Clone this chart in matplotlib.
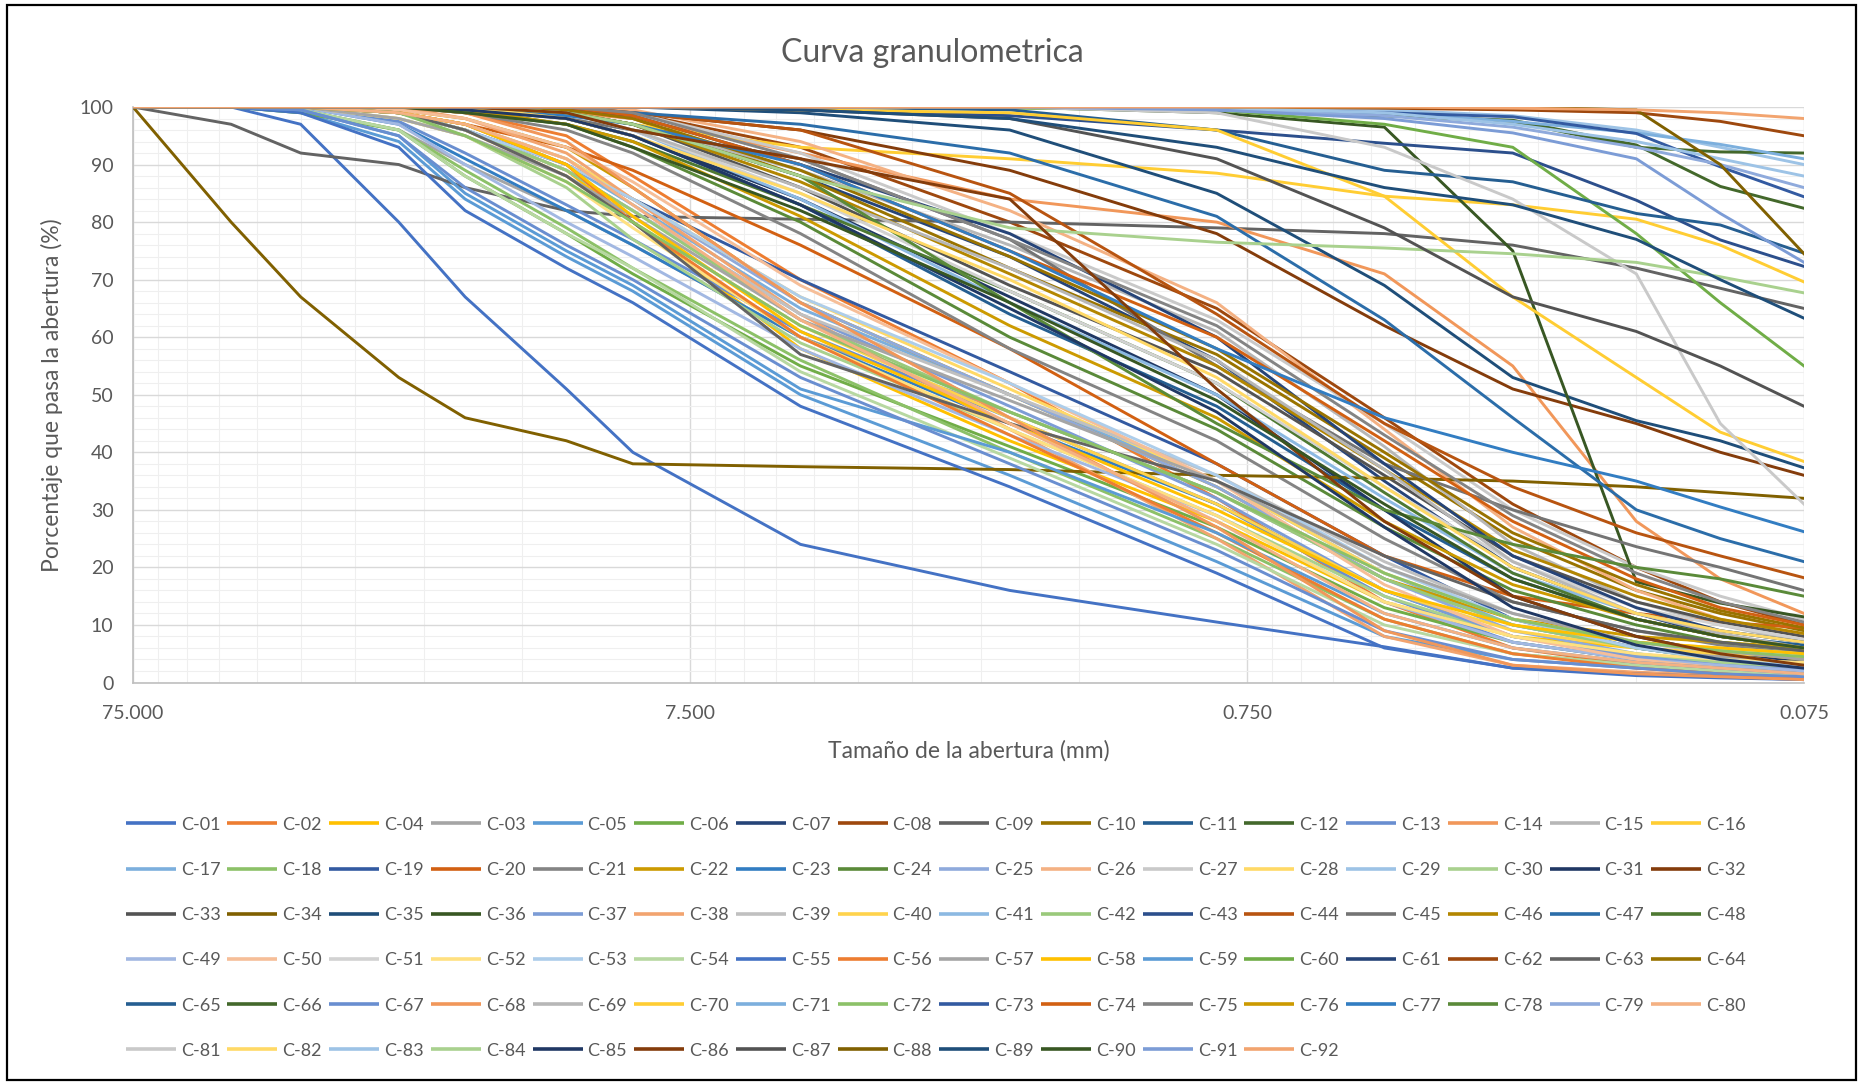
import colorsys
import matplotlib
matplotlib.use("Agg")
import matplotlib.pyplot as plt
from matplotlib.colors import to_rgb
from matplotlib.lines import Line2D
from matplotlib.patches import Rectangle
from matplotlib.ticker import FixedLocator, FuncFormatter, MultipleLocator, NullFormatter

# Sieve openings (mm)
sieves_mm = [75, 50, 37.5, 25, 19, 12.5, 9.5, 4.75, 2.0, 0.85, 0.425, 0.25, 0.15, 0.106, 0.075]

# Percent passing for each sample, in the order of sieves_mm
C01 = [100, 100, 97, 80, 67, 51, 40, 24, 16, 10.5, 6.2, 2.5, 1.2, 0.8, 0.5]
C02 = [100, 100, 100, 100, 99, 95, 88, 70, 52, 32, 14, 6, 3, 2, 1]
C03 = [100, 100, 99.5, 96, 90, 82, 76, 60, 47, 33, 18, 10, 6, 4.5, 3.5]
C04 = [100, 100, 100, 99, 96, 89, 80, 58, 42, 28, 14, 8, 6, 5, 4]
C05 = [100, 100, 99, 94, 84, 74, 68, 50, 36, 21, 8, 4, 2.5, 1.8, 1.2]
C06 = [100, 100, 99, 96, 88, 78, 71, 55, 41, 27, 13, 7, 4, 3, 2]
C07 = [100, 100, 100, 100, 100, 99, 97, 88, 74, 56, 35, 20, 12, 8, 6]
C08 = [100, 100, 100, 100, 100, 100, 99, 93, 80, 65, 46, 31, 20, 14, 10]
C09 = [100, 97, 92, 90, 86, 82, 81, 80.5, 80, 79, 78, 76, 72, 68.5, 65]
C10 = [100, 100, 100, 100, 100, 99.5, 98, 88, 72, 57, 39, 25, 16, 12, 9]
C11 = [100, 100, 100, 100, 100, 98, 95, 83, 64, 48, 30, 18, 11, 8, 6.5]
C12 = [100, 100, 100, 100, 100, 100, 100, 100, 100, 99.5, 98.5, 97.7, 93.4, 86.2, 82.4]
C13 = [100, 100, 100, 97.5, 92, 83, 77, 61, 46, 31, 15, 7, 4, 2.8, 2]
C14 = [100, 100, 100, 100, 100, 99, 98, 92, 84, 80, 71, 55, 28, 18, 12]
C15 = [100, 100, 100, 100, 100, 99, 97, 89, 76, 61, 41, 24, 14, 10, 7]
C16 = [100, 100, 100, 100, 100, 99, 97, 93, 91, 88.5, 84.5, 83, 80.5, 76, 69.6]
C17 = [100, 100, 100, 99, 97, 90, 83, 65, 50, 35, 19, 10, 6, 4, 3]
C18 = [100, 100, 99.5, 96, 89, 79, 72, 56, 40, 25, 11, 5, 3, 2, 1.5]
C19 = [100, 100, 100, 99, 96, 90, 84, 70, 54, 38, 22, 11, 6, 4, 3]
C20 = [100, 100, 100, 99, 97, 93, 89, 76, 58, 38, 22, 15, 12, 10.5, 9.5]
C21 = [100, 100, 100, 100, 99, 96, 92, 78, 58, 42, 25, 14, 9, 6.5, 5]
C22 = [100, 100, 100, 99.5, 98, 93, 86, 66, 50, 34, 18, 11, 8, 7, 6]
C23 = [100, 100, 100, 97, 91, 82, 76, 60, 45, 31, 16, 8, 4.5, 3, 2]
C24 = [100, 100, 100, 100, 99, 97, 93, 80, 60, 44, 27, 16, 10, 7, 5.5]
C25 = [100, 100, 100, 99, 97, 91, 84, 66, 50, 34, 18, 9, 5, 3.5, 2.5]
C26 = [100, 100, 100, 100, 100, 100, 99.5, 94, 82, 66, 44, 27, 16, 11, 8]
C27 = [100, 100, 100, 100, 100, 100, 99, 92, 78, 63, 45, 30, 20, 15, 11]
C28 = [100, 100, 100, 99, 97, 91, 84, 67, 51, 35, 19, 11, 7, 6, 5]
C29 = [100, 100, 100, 100, 100, 100, 100, 100, 100, 100, 99.5, 98.5, 96, 93, 90]
C30 = [100, 100, 100, 98, 95, 86, 77, 59, 44, 29, 15, 8, 5, 3.5, 2.5]
C31 = [100, 100, 100, 100, 100, 98, 95, 84, 67, 50, 30, 15, 8, 5, 3.5]
C32 = [100, 100, 100, 100, 100, 100, 99, 96, 89, 78, 62, 51, 45, 40, 36]
C33 = [100, 100, 100, 100, 100, 99, 97, 86, 69, 54, 36, 22, 14, 10.5, 8]
C34 = [100, 80, 67, 53, 46, 42, 38, 37.5, 37, 36, 35.5, 35, 34, 33, 32]
C35 = [100, 100, 100, 100, 100, 100, 100, 99, 96, 85, 69, 53, 45.5, 42, 37.3]
C36 = [100, 100, 100, 100, 100, 100, 100, 100, 100, 99, 96.5, 75, 17.5, 13.8, 11.4]
C37 = [100, 100, 100, 99, 96, 89, 82, 64, 48, 32, 16, 8, 4.5, 3, 2.2]
C38 = [100, 100, 100, 100, 98, 92, 84, 64, 44, 25, 8, 3, 1.8, 1.2, 0.6]
C39 = [100, 100, 100, 99, 96, 89, 82, 64, 50, 36, 21, 12, 7, 5, 3]
C40 = [100, 100, 100, 99, 96, 88, 80, 62, 46, 31, 16, 9, 6, 5, 4.5]
C41 = [100, 100, 100, 100, 100, 98, 96, 84, 66, 50, 32, 19, 12, 9, 7]
C42 = [100, 100, 100, 99, 96, 89, 82, 63, 47, 33, 18, 10, 6, 4, 3]
C43 = [100, 100, 100, 100, 100, 100, 100, 99.5, 98.5, 96, 93.7, 92, 83.8, 76.9, 72.3]
C44 = [100, 100, 100, 100, 100, 100, 99, 96, 85, 64, 45, 34, 26, 22, 18.2]
C45 = [100, 100, 100, 100, 99.5, 98, 96, 91, 77, 55, 38, 30, 23.6, 20, 16]
C46 = [100, 100, 100, 100, 100, 99, 97, 87, 71, 55, 37, 23, 15, 11, 8.5]
C47 = [100, 100, 100, 100, 100, 99.5, 99, 97, 92, 81, 63, 46, 30, 25, 21]
C48 = [100, 100, 100, 100, 99.5, 97, 94, 83, 68, 52, 33, 19, 11, 8, 6]
C49 = [100, 100, 100, 97, 90, 80, 74, 58, 43, 29, 14, 7, 4, 3, 2]
C50 = [100, 100, 100, 99.5, 98, 93, 87, 69, 52, 35, 17, 8, 4, 2.5, 1.5]
C51 = [100, 100, 100, 100, 100, 99, 96, 85, 68, 52, 34, 21, 13, 10, 7.5]
C52 = [100, 100, 100, 98, 95, 87, 79, 60, 44, 29, 14, 8, 5, 4, 3.5]
C53 = [100, 100, 100, 99, 96, 90, 84, 67, 52, 36, 20, 11, 6, 4, 2.8]
C54 = [100, 100, 99.5, 96, 88, 78, 72, 54, 39, 24, 10, 5, 3, 2, 1.2]
C55 = [100, 100, 99, 93, 82, 72, 66, 48, 34, 19, 6, 2.5, 1.5, 1, 0.5]
C56 = [100, 100, 100, 99, 97, 90, 80, 60, 43, 26, 11, 5, 2.5, 1.5, 0.8]
C57 = [100, 100, 100, 98, 95, 88, 81, 63, 49, 35, 20, 12, 7, 5.5, 4]
C58 = [100, 100, 100, 99, 97, 90, 81, 61, 45, 30, 16, 10, 7, 6, 5]
C59 = [100, 100, 99.5, 95, 85, 75, 69, 51, 40, 26, 12, 6, 3.5, 2.5, 1.5]
C60 = [100, 100, 100, 100, 100, 100, 100, 100, 99.8, 99.5, 97, 93, 78, 66, 55]
C61 = [100, 100, 100, 100, 100, 99.5, 98.5, 90, 78, 60, 38, 22, 13, 9, 7]
C62 = [100, 100, 100, 100, 100, 100, 100, 100, 100, 100, 99.8, 99.5, 99, 97.5, 95]
C63 = [100, 100, 100, 99, 96, 88, 80, 57, 45, 35, 22, 14, 9, 7, 5.5]
C64 = [100, 100, 100, 100, 100, 99.5, 98, 89, 74, 58, 40, 26, 17, 12.5, 9.5]
C65 = [100, 100, 100, 100, 100, 100, 100, 100, 99.5, 96, 89, 87, 81.5, 79.5, 74.6]
C66 = [100, 100, 100, 100, 100, 100, 100, 100, 100, 99.5, 98.5, 97.5, 93, 92.2, 92]
C67 = [100, 100, 99.5, 95, 86, 76, 70, 53, 38, 23, 9, 4, 2.5, 1.5, 1]
C68 = [100, 100, 100, 100, 99, 94, 86, 66, 46, 27, 9, 3, 1.5, 1, 0.5]
C69 = [100, 100, 100, 100, 100, 99, 96, 86, 72, 56, 37, 21, 12, 8.5, 6]
C70 = [100, 100, 100, 100, 100, 100, 100, 99.5, 99, 96, 84.5, 67, 53, 43.5, 38.4]
C71 = [100, 100, 100, 100, 100, 100, 100, 100, 100, 99.5, 99, 97.5, 95.5, 93.5, 91]
C72 = [100, 100, 100, 99, 95, 87, 80, 62, 47, 33, 19, 11, 7, 5.5, 4.5]
C73 = [100, 100, 100, 100, 100, 100, 100, 100, 100, 99.5, 99, 98.3, 95.4, 89.6, 84.4]
C74 = [100, 100, 100, 100, 100, 100, 98.5, 90, 75, 60, 42, 28, 18, 13, 10]
C75 = [100, 100, 100, 100, 100, 100, 99, 91, 77, 62, 43, 29, 19, 14, 10.5]
C76 = [100, 100, 100, 100, 99.5, 97, 94, 81, 62, 46, 28, 17, 11, 8, 6]
C77 = [100, 100, 100, 100, 99.5, 98.5, 97, 90, 75, 58, 46, 40, 35, 30.5, 26.2]
C78 = [100, 100, 100, 100, 100, 99, 97, 88, 66, 45, 30, 24, 20, 18, 15]
C79 = [100, 100, 100, 100, 100, 100, 100, 100, 100, 99.5, 98.5, 96.5, 93, 90, 86]
C80 = [100, 100, 100, 99, 97, 91, 83, 63, 45, 28, 12, 6, 3.5, 2.5, 1.5]
C81 = [100, 100, 100, 100, 100, 100, 100, 100, 100, 99, 93, 84, 71, 45, 31]
C82 = [100, 100, 100, 100, 100, 98, 95, 85, 70, 53, 34, 20, 12, 9, 7]
C83 = [100, 100, 100, 100, 100, 100, 100, 100, 100, 99.8, 99, 97, 94, 91, 88]
C84 = [100, 100, 100, 100, 100, 99, 97, 88, 79, 76.5, 75.5, 74.5, 73, 70.5, 67.7]
C85 = [100, 100, 100, 100, 99.5, 98, 95, 83, 65, 47, 27, 13, 6.5, 4, 2.5]
C86 = [100, 100, 100, 100, 100, 99, 96, 91, 84, 51, 28, 15, 8, 5, 3]
C87 = [100, 100, 100, 100, 100, 100, 100, 99.5, 98, 91, 79, 67, 61, 55, 48]
C88 = [100, 100, 100, 100, 100, 100, 100, 100, 100, 100, 100, 100, 99.5, 90, 74.5]
C89 = [100, 100, 100, 100, 100, 100, 100, 99.5, 98, 93, 86, 83, 77, 70, 63.3]
C90 = [100, 100, 100, 100, 99, 97, 93, 82, 66, 49, 31, 18, 11, 8, 6]
C91 = [100, 100, 100, 100, 100, 100, 100, 100, 100, 99.5, 98, 95.5, 91, 81.5, 73]
C92 = [100, 100, 100, 100, 100, 100, 100, 100, 100, 100, 100, 99.8, 99.5, 99, 98]

sample_ids = [1, 2, 4, 3] + list(range(5, 93))
sample_labels = [f"C-{n:02d}" for n in sample_ids]
series_values = [globals()[f"C{n:02d}"] for n in sample_ids]

x_ticks = [75, 7.5, 0.75, 0.075]
x_tick_labels = ["75.000", "7.500", "0.750", "0.075"]

# Office theme accents and the nine shade variants Excel cycles through
ACCENTS = ["#4472C4", "#ED7D31", "#A5A5A5", "#FFC000", "#5B9BD5", "#70AD47"]
SHADES = [(1.0, 0.0), (0.6, 0.0), (0.8, 0.2), (0.8, 0.0), (0.6, 0.4),
          (0.5, 0.0), (0.7, 0.3), (0.7, 0.0), (0.5, 0.5)]


def series_color(n):
    k = (n - 1) % 54
    r, g, b = to_rgb(ACCENTS[k % 6])
    mod, off = SHADES[k // 6]
    h, l, s = colorsys.rgb_to_hls(r, g, b)
    l = min(1.0, l * mod + off)
    return colorsys.hls_to_rgb(h, l, s)


W, H = 1861, 1082
FONT = ["Lato", "DejaVu Sans"]
TXT = "#595959"
plt.rcParams["font.family"] = FONT

fig = plt.figure(figsize=(W / 100, H / 100), dpi=100)
fig.patch.set_facecolor("white")


def fx(px):
    return px / W


def fy(py):
    return 1 - py / H


left, right, top, bottom = 133, 1804, 107, 682.5
ax = fig.add_axes([fx(left), fy(bottom), fx(right - left), (bottom - top) / H])

for n, lab, vals in zip(sample_ids, sample_labels, series_values):
    ax.plot(sieves_mm, vals, color=series_color(n), lw=2.1, label=lab,
            solid_joinstyle="miter", zorder=3)

ax.set_xscale("log")
ax.set_xlim(75, 0.075)
ax.set_ylim(0, 100)

ax.xaxis.set_major_locator(FixedLocator(x_ticks))
ax.xaxis.set_major_formatter(FuncFormatter(lambda v, p: f"{v:.3f}"))
minor_x = [b * k for b in (0.075, 0.75, 7.5) for k in range(2, 10)]
ax.xaxis.set_minor_locator(FixedLocator(minor_x))
ax.xaxis.set_minor_formatter(NullFormatter())
ax.yaxis.set_major_locator(MultipleLocator(10))
ax.yaxis.set_minor_locator(MultipleLocator(2))

ax.grid(which="major", color="#D9D9D9", lw=1.0, zorder=0)
ax.grid(which="minor", color="#EFEFEF", lw=0.8, zorder=0)
ax.set_axisbelow(True)

for side in ("top", "right"):
    ax.spines[side].set_visible(False)
for side in ("left", "bottom"):
    ax.spines[side].set_color("#BFBFBF")
    ax.spines[side].set_linewidth(1.2)

ax.tick_params(axis="both", which="both", length=0, colors=TXT, labelsize=14)
ax.tick_params(axis="x", pad=16)
ax.tick_params(axis="y", pad=14)

ax.set_xlabel("Tamaño de la abertura (mm)", fontsize=16.5, color=TXT, labelpad=13)
ax.set_ylabel("Porcentaje que pasa la abertura (%)", fontsize=16.5, color=TXT, labelpad=12)

fig.text(fx(932), fy(53), "Curva granulometrica", ha="center", va="center",
         fontsize=23, color=TXT)

# Legend laid out row by row, 16 entries per row
col0, col_pitch = 125.7, 101.7
row0, row_pitch = 823.3, 45.2
for i, (n, lab) in enumerate(zip(sample_ids, sample_labels)):
    r, c = divmod(i, 16)
    x0 = col0 + c * col_pitch
    y0 = row0 + r * row_pitch
    fig.add_artist(Line2D([fx(x0), fx(x0 + 50)], [fy(y0), fy(y0)],
                          transform=fig.transFigure, color=series_color(n),
                          lw=2.6, solid_capstyle="butt"))
    fig.text(fx(x0 + 55), fy(y0), lab, ha="left", va="center_baseline",
             fontsize=13, color=TXT)

# Outer chart border
fig.add_artist(Rectangle((fx(7), fy(1080)), fx(1856 - 7), (1080 - 5) / H,
                         transform=fig.transFigure, fill=False,
                         edgecolor="black", lw=1.6))

fig.savefig("out.png", dpi=100, facecolor="white")
